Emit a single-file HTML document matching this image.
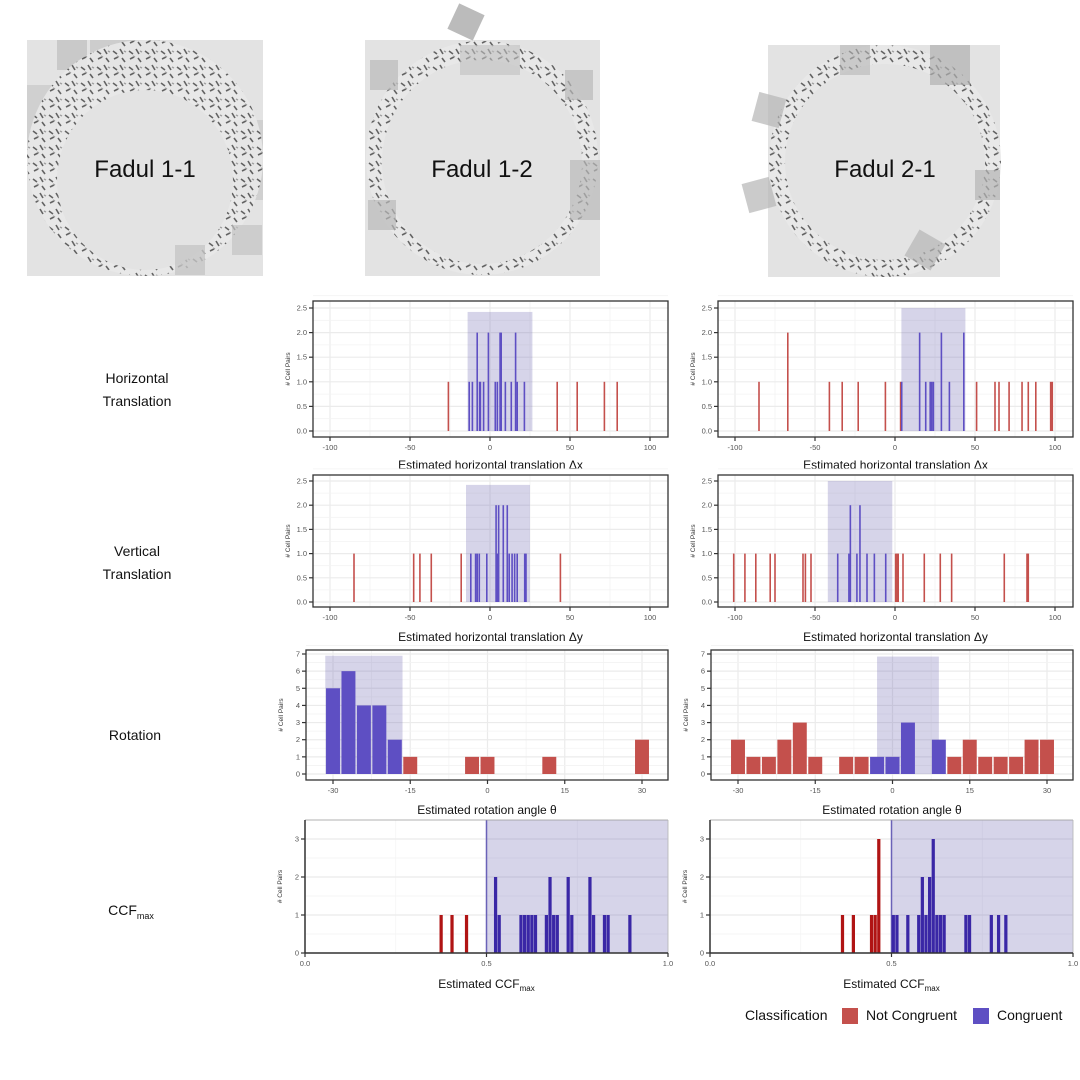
<!DOCTYPE html>
<html><head><meta charset="utf-8">
<style>
html,body{margin:0;padding:0;background:#fff;}
svg{display:block;font-family:"Liberation Sans",sans-serif;}
</style></head>
<body>
<svg id="root" width="1080" height="1080" viewBox="0 0 1080 1080" xmlns="http://www.w3.org/2000/svg">
<defs>
<pattern id="tex" width="16" height="16" patternUnits="userSpaceOnUse">
<rect width="16" height="16" fill="#e8e8e8"/>
<path d="M1 3 l4 3 M8 1 l3 5 M2 11 l4 -2 M10 10 l3 4" stroke="#555" stroke-width="1.6"/>
<path d="M5 8 l2 1 M12 3 l2 1" stroke="#999" stroke-width="1.5"/>
</pattern>
</defs>
<g id="images">
<g>
<rect x="27" y="40" width="236" height="236" fill="#e3e3e3"/>
<rect x="57" y="40" width="30" height="30" fill="#c9c9c9"/><rect x="90" y="40" width="70" height="40" fill="#cdcdcd"/><rect x="27" y="85" width="30" height="80" fill="#d0d0d0"/><rect x="235" y="120" width="28" height="80" fill="#d0d0d0"/>
<ellipse cx="145" cy="158" rx="118" ry="118" fill="url(#tex)" opacity="0.9"/>
<ellipse cx="145" cy="180" rx="88" ry="90" fill="#e3e3e3"/>
<rect x="175" y="245" width="30" height="30" fill="#c5c5c5" opacity="0.8"/>
<rect x="232" y="225" width="30" height="30" fill="#c3c3c3" opacity="0.7"/>
<text x="145" y="177" font-size="24" text-anchor="middle" fill="#111">Fadul 1-1</text>
</g>
<g>
<rect x="365" y="40" width="235" height="236" fill="#e3e3e3"/>
<ellipse cx="482" cy="158" rx="116" ry="117" fill="url(#tex)" opacity="0.9"/>
<ellipse cx="482" cy="162" rx="100" ry="102" fill="#e3e3e3"/>
<rect x="452" y="8" width="28" height="28" fill="#bbb" transform="rotate(25 466 22)"/>
<rect x="370" y="60" width="28" height="30" fill="#b9b9b9" opacity="0.7"/><rect x="565" y="70" width="28" height="30" fill="#b9b9b9" opacity="0.7"/><rect x="570" y="160" width="30" height="60" fill="#b9b9b9" opacity="0.7"/><rect x="368" y="200" width="28" height="30" fill="#b9b9b9" opacity="0.7"/><rect x="460" y="45" width="60" height="30" fill="#c0c0c0" opacity="0.6"/>
<text x="482" y="177" font-size="24" text-anchor="middle" fill="#111">Fadul 1-2</text>
</g>
<g>
<rect x="768" y="45" width="232" height="232" fill="#e3e3e3"/>
<ellipse cx="885" cy="161" rx="116" ry="116" fill="url(#tex)" opacity="0.9"/>
<ellipse cx="885" cy="162" rx="100" ry="98" fill="#e3e3e3"/>
<rect x="755" y="95" width="28" height="30" fill="#b5b5b5" opacity="0.7" transform="rotate(15 769 110)"/><rect x="745" y="180" width="28" height="30" fill="#b5b5b5" opacity="0.7" transform="rotate(-15 759 195)"/><rect x="930" y="45" width="40" height="40" fill="#b0b0b0" opacity="0.7"/><rect x="910" y="235" width="30" height="30" fill="#b5b5b5" opacity="0.7" transform="rotate(30 925 250)"/><rect x="975" y="170" width="25" height="30" fill="#b5b5b5" opacity="0.7"/><rect x="840" y="45" width="30" height="30" fill="#b5b5b5" opacity="0.6"/>
<text x="885" y="177" font-size="24" text-anchor="middle" fill="#111">Fadul 2-1</text>
</g>
</g>
<g font-size="14" fill="#111" text-anchor="middle">
<text x="137" y="383">Horizontal</text>
<text x="137" y="406">Translation</text>
<text x="137" y="556">Vertical</text>
<text x="137" y="579">Translation</text>
<text x="135" y="740">Rotation</text>
<text x="131" y="915">CCF<tspan font-size="9" dy="4">max</tspan></text>
</g>
<g id="charts"></g>
<g font-size="14" fill="#111">
<text x="745" y="1020">Classification</text>
<rect x="842" y="1008" width="16" height="16" fill="#c4504c"/>
<text x="866" y="1020">Not Congruent</text>
<rect x="973" y="1008" width="16" height="16" fill="#5e4fc3"/>
<text x="997" y="1020">Congruent</text>
</g>
</svg>
<script>
// ---- data ----
const hxLeftRed = [[-26,1],[42,1],[54.5,1],[71.5,1],[79.5,1]];
const hxLeftBlue = [[-13,1],[-11,1],[-8,2],[-6.5,1],[-6,1],[-4,1],[-1,2],[3.3,1],[4.6,1],[6.3,2],[7,2],[9.6,1],[13.3,1],[16,2],[17,1],[21.5,1]];
const hxLeftShade = [-14, 26.5, 2.42];
const hxRightRed = [[-85,1],[-67,2],[-41,1],[-33,1],[-23,1],[-6,1],[3.5,1],[51,1],[62.5,1],[65,1],[71.3,1],[79.4,1],[83.3,1],[88,1],[97.3,1],[98.3,1]];
const hxRightBlue = [[4.2,1],[15.4,2],[19.2,1],[22,1],[23,1],[24,1],[29,2],[34,1],[43,2]];
const hxRightShade = [4, 44, 2.5];
const vyLeftRed = [[-85,1],[-47.7,1],[-43.8,1],[-36.7,1],[-18,1],[44,1]];
const vyLeftBlue = [[-12,1],[-9,1],[-8,1],[-6.7,1],[-2,1],[3.8,2],[4.6,1],[5.4,2],[8.3,2],[10.8,2],[12,1],[13.8,1],[15.4,1],[17,1],[21.7,1],[22.5,1]];
const vyLeftShade = [-15, 25, 2.42];
const vyRightRed = [[-100.8,1],[-93.8,1],[-87,1],[-78,1],[-75,1],[-57.5,1],[-56,1],[-52.5,1],[0.4,1],[1.2,1],[2,1],[5,1],[18.3,1],[28.3,1],[35.4,1],[68.3,1],[82.5,1],[83.3,1]];
const vyRightBlue = [[-35.8,1],[-28.8,1],[-27.9,2],[-23.8,1],[-21.9,2],[-17.5,1],[-12.9,1],[-5.8,1]];
const vyRightShade = [-42, -1.7, 2.5];
const rotLeftRed = [[-15,1],[-3,1],[0,1],[12,1],[30,2]];
const rotLeftBlue = [[-30,5],[-27,6],[-24,4],[-21,4],[-18,2]];
const rotLeftShade = [-31.5, -16.5, 6.9];
const rotRightRed = [[-30,2],[-27,1],[-24,1],[-21,2],[-18,3],[-15,1],[-9,1],[-6,1],[12,1],[15,2],[18,1],[21,1],[24,1],[27,2],[30,2]];
const rotRightBlue = [[-3,1],[0,1],[3,3],[9,2]];
const rotRightShade = [-3, 9, 6.85];
const ccfLeftRed = [[0.375,1],[0.405,1],[0.445,1]];
const ccfLeftBlue = [[0.525,2],[0.535,1],[0.595,1],[0.605,1],[0.615,1],[0.625,1],[0.635,1],[0.665,1],[0.675,2],[0.685,1],[0.695,1],[0.725,2],[0.735,1],[0.785,2],[0.795,1],[0.825,1],[0.835,1],[0.895,1]];
const ccfRightRed = [[0.365,1],[0.395,1],[0.445,1],[0.455,1],[0.465,3]];
const ccfRightBlue = [[0.505,1],[0.515,1],[0.545,1],[0.575,1],[0.585,2],[0.595,1],[0.605,2],[0.615,3],[0.625,1],[0.635,1],[0.645,1],[0.705,1],[0.715,1],[0.775,1],[0.795,1],[0.815,1]];
const ccfShade = [0.5, 1.0, 3.5];
const transTicks = [-100,-50,0,50,100];
const transYTicks = ["0.0","0.5","1.0","1.5","2.0","2.5"];
const rotTicks = [-30,-15,0,15,30];
const rotYTicks = ["0","1","2","3","4","5","6","7"];
const ccfTicks = ["0.0","0.5","1.0"];
const ccfYTicks = ["0","1","2","3"];

const NS = "http://www.w3.org/2000/svg";
const charts = document.getElementById('charts');
function mk(tag, attrs, parent){const e=document.createElementNS(NS,tag);for(const k in attrs)e.setAttribute(k,attrs[k]);parent.appendChild(e);return e;}

function panel(cfg){
  const g = mk('g',{},charts);
  
  
  const X = v => cfg.px0 + (v - cfg.v0) * (cfg.px1 - cfg.px0) / (cfg.v1 - cfg.v0);
  const Y = v => cfg.py0 - v * (cfg.py0 - cfg.pyTop) / cfg.yTop;
  const xt = cfg.xTicks.map(Number);
  const step = xt[1]-xt[0];
  for(let i=0;i<xt.length;i++){
    mk('line',{x1:X(xt[i]),x2:X(xt[i]),y1:cfg.by0,y2:cfg.by1,stroke:'#ebebeb','stroke-width':1.2},g);
    if(i<xt.length-1) mk('line',{x1:X(xt[i]+step/2),x2:X(xt[i]+step/2),y1:cfg.by0,y2:cfg.by1,stroke:'#f3f3f3','stroke-width':0.8},g);
  }
  const yt = cfg.yTicks.map(Number);
  const ys = yt[1]-yt[0];
  for(let i=0;i<yt.length;i++){
    mk('line',{x1:cfg.bx0,x2:cfg.bx1,y1:Y(yt[i]),y2:Y(yt[i]),stroke:'#ebebeb','stroke-width':1.2},g);
    mk('line',{x1:cfg.bx0,x2:cfg.bx1,y1:Y(yt[i]+ys/2),y2:Y(yt[i]+ys/2),stroke:'#f3f3f3','stroke-width':0.8},g);
  }
  const sh = cfg.shade;
  const s = mk('rect',{x:X(sh[0]),y:Math.max(Y(sh[2]),cfg.by0),width:X(sh[1])-X(sh[0]),height:cfg.py0-Math.max(Y(sh[2]),cfg.by0),fill:'#5d55a8','fill-opacity':0.25},g);
  
  
  if(cfg.ccf){ mk('line',{x1:X(sh[0]),x2:X(sh[0]),y1:cfg.by0,y2:cfg.py0,stroke:'#6a62b8','stroke-width':1.5},g); }
  function bars(arr, color, cls){
    arr.forEach(d=>{
      let r;
      if(cfg.type==='line'){
        r = mk('rect',{x:X(d[0])-0.8,y:Y(d[1]),width:1.6,height:cfg.py0-Y(d[1]),fill:color},g);
      } else {
        const w = cfg.binW;
        r = mk('rect',{x:X(d[0]-w/2)+cfg.gap/2,y:Y(d[1]),width:X(d[0]+w/2)-X(d[0]-w/2)-cfg.gap,height:cfg.py0-Y(d[1]),fill:color},g);
      }
      
      
    });
  }
  bars(cfg.red, cfg.redColor, 'not-congruent');
  bars(cfg.blue, cfg.blueColor, 'congruent');
  if(cfg.ccf){
    mk('line',{x1:cfg.bx0,x2:cfg.bx1,y1:cfg.by0,y2:cfg.by0,stroke:'#999','stroke-width':0.8},g);
    mk('line',{x1:cfg.bx1,x2:cfg.bx1,y1:cfg.by0,y2:cfg.by1,stroke:'#bbb','stroke-width':0.8},g);
    mk('line',{x1:cfg.bx0,x2:cfg.bx0,y1:cfg.by0,y2:cfg.by1,stroke:'#333','stroke-width':1.5},g);
    mk('line',{x1:cfg.bx0,x2:cfg.bx1,y1:cfg.by1,y2:cfg.by1,stroke:'#333','stroke-width':1.5},g);
  } else {
    mk('rect',{x:cfg.bx0,y:cfg.by0,width:cfg.bx1-cfg.bx0,height:cfg.by1-cfg.by0,fill:'none',stroke:'#333','stroke-width':1.3},g);
  }
  cfg.xTicks.forEach(t=>{
    const x = X(Number(t));
    mk('line',{x1:x,x2:x,y1:cfg.by1,y2:cfg.by1+4,stroke:'#333','stroke-width':1.2},g);
    const tx = mk('text',{x:x,y:cfg.by1+13,'font-size':7.5,fill:'#555','text-anchor':'middle'},g);
    tx.textContent = t;
    
    
  });
  cfg.yTicks.forEach(t=>{
    const y = Y(Number(t));
    mk('line',{x1:cfg.bx0-4,x2:cfg.bx0,y1:y,y2:y,stroke:'#333','stroke-width':1.2},g);
    const tx = mk('text',{x:cfg.bx0-6,y:y+2.5,'font-size':7.5,fill:'#555','text-anchor':'end'},g);
    tx.textContent = t;
    
    
  });
  const yl = mk('text',{x:0,y:0,'font-size':6.5,fill:'#333','text-anchor':'middle',transform:`translate(${cfg.bx0-23},${(cfg.by0+cfg.by1)/2}) rotate(-90)`},g);
  yl.textContent = '# Cell Pairs';
  
  
  const xl = mk('text',{x:(cfg.bx0+cfg.bx1)/2,y:cfg.titleY,'font-size':12,fill:'#111','text-anchor':'middle'},g);
  xl.innerHTML = cfg.title;
  
  
}
const RED='#c4504c', BLUE='#5e4fc3', DRED='#b01414', DBLUE='#3a27a6';
const L = {bx0:313,bx1:668,px0:330,px1:650}, R = {bx0:718,bx1:1073,px0:735,px1:1055};
function base(side, extra){return Object.assign({}, side, extra);}
panel(base(L,{name:'horizontal-translation-fadul-1-2',by0:301,by1:437,py0:431,pyTop:308,yTop:2.5,v0:-100,v1:100,type:'line',xTicks:transTicks,yTicks:transYTicks,red:hxLeftRed,blue:hxLeftBlue,shade:hxLeftShade,redColor:RED,blueColor:BLUE,title:'Estimated horizontal translation \u0394x',titleY:469}));
panel(base(R,{name:'horizontal-translation-fadul-2-1',by0:301,by1:437,py0:431,pyTop:308,yTop:2.5,v0:-100,v1:100,type:'line',xTicks:transTicks,yTicks:transYTicks,red:hxRightRed,blue:hxRightBlue,shade:hxRightShade,redColor:RED,blueColor:BLUE,title:'Estimated horizontal translation \u0394x',titleY:469}));
panel(base(L,{name:'vertical-translation-fadul-1-2',by0:475,by1:607,py0:602,pyTop:481,yTop:2.5,v0:-100,v1:100,type:'line',xTicks:transTicks,yTicks:transYTicks,red:vyLeftRed,blue:vyLeftBlue,shade:vyLeftShade,redColor:RED,blueColor:BLUE,title:'Estimated horizontal translation \u0394y',titleY:641}));
panel(base(R,{name:'vertical-translation-fadul-2-1',by0:475,by1:607,py0:602,pyTop:481,yTop:2.5,v0:-100,v1:100,type:'line',xTicks:transTicks,yTicks:transYTicks,red:vyRightRed,blue:vyRightBlue,shade:vyRightShade,redColor:RED,blueColor:BLUE,title:'Estimated horizontal translation \u0394y',titleY:641}));
const RL = {bx0:306,bx1:668,px0:333,px1:642}, RR = {bx0:711,bx1:1073,px0:738,px1:1047};
panel(base(RL,{name:'rotation-fadul-1-2',by0:650,by1:780,py0:774,pyTop:654,yTop:7,v0:-30,v1:30,type:'hist',binW:3,gap:1.5,xTicks:rotTicks,yTicks:rotYTicks,red:rotLeftRed,blue:rotLeftBlue,shade:rotLeftShade,redColor:RED,blueColor:BLUE,title:'Estimated rotation angle \u03B8',titleY:814}));
panel(base(RR,{name:'rotation-fadul-2-1',by0:650,by1:780,py0:774,pyTop:654,yTop:7,v0:-30,v1:30,type:'hist',binW:3,gap:1.5,xTicks:rotTicks,yTicks:rotYTicks,red:rotRightRed,blue:rotRightBlue,shade:rotRightShade,redColor:RED,blueColor:BLUE,title:'Estimated rotation angle \u03B8',titleY:814}));
const CL = {bx0:305,bx1:668,px0:305,px1:668}, CR = {bx0:710,bx1:1073,px0:710,px1:1073};
const ccfTitle = 'Estimated CCF<tspan font-size="8" dy="3">max</tspan>';
panel(base(CL,{name:'ccf-fadul-1-2',ccf:true,by0:820,by1:953,py0:953,pyTop:839,yTop:3,v0:0,v1:1,type:'hist',binW:0.01,gap:0.4,xTicks:ccfTicks,yTicks:ccfYTicks,red:ccfLeftRed,blue:ccfLeftBlue,shade:ccfShade,redColor:DRED,blueColor:DBLUE,title:ccfTitle,titleY:988}));
panel(base(CR,{name:'ccf-fadul-2-1',ccf:true,by0:820,by1:953,py0:953,pyTop:839,yTop:3,v0:0,v1:1,type:'hist',binW:0.01,gap:0.4,xTicks:ccfTicks,yTicks:ccfYTicks,red:ccfRightRed,blue:ccfRightBlue,shade:ccfShade,redColor:DRED,blueColor:DBLUE,title:ccfTitle,titleY:988}));
</script>
</body></html>
